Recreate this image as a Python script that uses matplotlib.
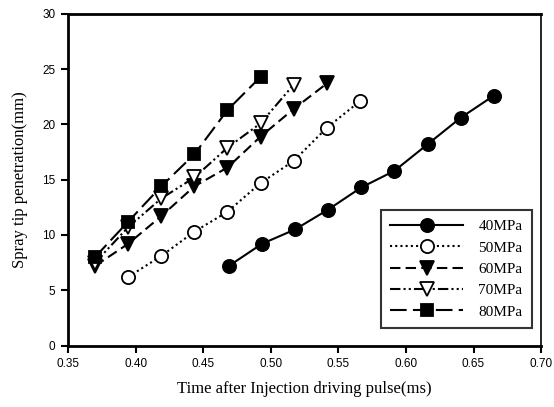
import matplotlib.pyplot as plt

# time (ms) and spray tip penetration (mm) per injection pressure
time_40 = [0.469, 0.4935, 0.518, 0.5425, 0.567, 0.5915, 0.616, 0.6405, 0.665]
pen_40 = [7.2, 9.2, 10.5, 12.3, 14.3, 15.8, 18.2, 20.6, 22.6]

time_50 = [0.3945, 0.419, 0.4435, 0.468, 0.4925, 0.517, 0.5415, 0.566]
pen_50 = [6.2, 8.1, 10.3, 12.1, 14.7, 16.7, 19.7, 22.1]

time_60 = [0.37, 0.3945, 0.419, 0.4435, 0.468, 0.4925, 0.517, 0.5415]
pen_60 = [7.2, 9.2, 11.7, 14.4, 16.1, 18.9, 21.4, 23.7]

time_70 = [0.37, 0.3945, 0.419, 0.4435, 0.468, 0.4925, 0.517]
pen_70 = [7.5, 10.7, 13.3, 15.2, 17.9, 20.1, 23.6]

time_80 = [0.37, 0.3945, 0.419, 0.4435, 0.468, 0.4925]
pen_80 = [8.0, 11.2, 14.4, 17.3, 21.3, 24.3]

labels = ["40MPa", "50MPa", "60MPa", "70MPa", "80MPa"]

SANS = "Liberation Sans"
SERIF = "Liberation Serif"

fig = plt.figure(figsize=(5.54, 4.07), dpi=100)
ax = fig.add_axes([0.1227, 0.151, 0.854, 0.815])

series = [
    (time_40, pen_40, "-", "o", "black"),
    (time_50, pen_50, (0, (1, 1.5)), "o", "white"),
    (time_60, pen_60, (0, (5, 2.5)), "v", "black"),
    (time_70, pen_70, (0, (5, 1.5, 1, 1.5, 1, 1.5)), "v", "white"),
    (time_80, pen_80, (0, (8, 3)), "s", "black"),
]
for (x, y, ls, mk, fc), lab in zip(series, labels):
    ax.plot(x, y, linestyle=ls, color="black", lw=1.5, marker=mk,
            markersize=9.5 if mk != "s" else 8.5, markerfacecolor=fc,
            markeredgecolor="black", markeredgewidth=1.3, label=lab)

ax.set_xlim(0.35, 0.70)
ax.set_ylim(0, 30)
ax.set_xticks([0.35, 0.40, 0.45, 0.50, 0.55, 0.60, 0.65, 0.70])
ax.set_yticks([0, 5, 10, 15, 20, 25, 30])
ax.xaxis.set_major_formatter(plt.FormatStrFormatter("%.2f"))
ax.tick_params(direction="out", length=5, width=1.5, labelsize=8.5, pad=4)
for lab in ax.get_xticklabels() + ax.get_yticklabels():
    lab.set_fontfamily(SANS)

for side in ["left", "bottom", "top"]:
    ax.spines[side].set_linewidth(2)
ax.spines["right"].set_linewidth(1.2)

ax.set_xlabel("Time after Injection driving pulse(ms)", family=SERIF, fontsize=12, labelpad=8)
ax.set_ylabel("Spray tip penetration(mm)", family=SERIF, fontsize=12, labelpad=10)

leg = ax.legend(loc="lower right", bbox_to_anchor=(0.99, 0.04), prop={"family": SERIF, "size": 11},
                frameon=True, fancybox=False, edgecolor="black", handlelength=4.8,
                labelspacing=0.5, borderpad=0.6, handletextpad=1.0, borderaxespad=0.3)
leg.get_frame().set_linewidth(1.5)

fig.savefig("out.png", dpi=100)
